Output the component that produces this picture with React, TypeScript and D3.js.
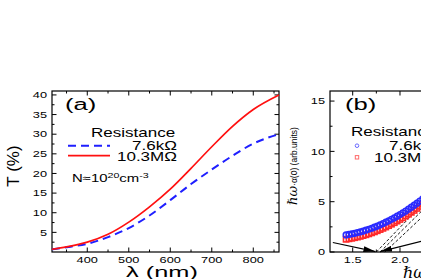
import React from 'react';
import * as d3 from 'd3';

// panel (a): transmission spectra
const wavelength = [315, 350, 400, 450, 500, 550, 600, 650, 700, 750, 800, 862];
const tLowRes = [0.7, 1.2, 2.1, 3.8, 6.1, 9.3, 13.2, 17.3, 21.0, 24.5, 27.6, 30.0];
const tHighRes = [0.7, 1.3, 2.5, 4.5, 7.6, 11.5, 16.0, 21.3, 26.8, 32.0, 36.3, 40.0];

// panel (b): hw*alpha(0)
const energy = [1.43, 1.46, 1.49, 1.52, 1.55, 1.58, 1.61, 1.64, 1.67, 1.70, 1.73, 1.76, 1.79, 1.82, 1.85, 1.88,
  1.91, 1.94, 1.97, 2.00, 2.03, 2.06, 2.09, 2.12, 2.15, 2.18, 2.21, 2.24, 2.27, 2.30, 2.33];
const absLowRes = [1.70, 1.75, 1.80, 1.86, 1.93, 2.00, 2.08, 2.17, 2.26, 2.36, 2.47, 2.58, 2.70, 2.83, 2.96, 3.10,
  3.25, 3.40, 3.56, 3.72, 3.89, 4.07, 4.26, 4.45, 4.65, 4.85, 5.06, 5.28, 5.51, 5.74, 5.98];
const absHighRes = [1.26, 1.31, 1.36, 1.42, 1.48, 1.55, 1.63, 1.71, 1.80, 1.90, 2.00, 2.11, 2.23, 2.35, 2.48, 2.62,
  2.76, 2.91, 3.07, 3.23, 3.39, 3.57, 3.75, 3.94, 4.13, 4.33, 4.53, 4.74, 4.96, 5.19, 5.42];

const tangentX0 = [1.75, 1.79, 1.84];
const tangentX1 = [2.6, 2.6, 2.6];
const tangentY1 = [8.3, 7.5, 6.7];

const arrowFromX = [1.29, 2.4];
const arrowFromY = [0.95, 1.48];
const arrowToX = [1.74, 1.79];
const arrowToY = [0.04, 0.04];

const aXMajor = [400, 500, 600, 700, 800];
const aXMinor = [350, 450, 550, 650, 750, 850];
const aYMajor = [5, 10, 15, 20, 25, 30, 35, 40];
const aYMinor = [2.5, 7.5, 12.5, 17.5, 22.5, 27.5, 32.5, 37.5];
const bXMajor = [1.5, 2.0, 2.5, 3.0, 3.5];
const bXMinor = [1.75, 2.25, 2.75, 3.25];
const bYMajor = [0, 5, 10, 15];
const bYMinor = [2.5, 7.5, 12.5];

const SANS = 'Liberation Sans, Arial, sans-serif';
const STRETCH = 1.42;

function SText(props: any) {
  const { x, y, size, anchor, sx, children, ...rest } = props;
  return (
    <text transform={`translate(${x},${y}) scale(${sx || STRETCH},1)`} fontSize={size} fontFamily={SANS}
      textAnchor={anchor || 'start'} fill="#000" {...rest}>
      {children}
    </text>
  );
}

function Frame({ x, y, xMajor, xMinor, yMajor, yMinor, xFmt, yFmt }: any) {
  const [x0, x1] = x.range();
  const [y0, y1] = y.range();
  const maj = 4.5, mnr = 2.5;
  return (
    <g stroke="#000" strokeWidth={1}>
      <rect x={x0} y={y1} width={x1 - x0} height={y0 - y1} fill="none" strokeWidth={1.2} />
      {xMajor.map((v: number) => (
        <g key={'xm' + v}>
          <line x1={x(v)} x2={x(v)} y1={y0} y2={y0 - maj} />
          <line x1={x(v)} x2={x(v)} y1={y1} y2={y1 + maj} />
          <SText x={x(v)} y={y0 + 10.5} size={9} anchor="middle" stroke="none">{xFmt(v)}</SText>
        </g>
      ))}
      {xMinor.map((v: number) => (
        <g key={'xn' + v}>
          <line x1={x(v)} x2={x(v)} y1={y0} y2={y0 - mnr} />
          <line x1={x(v)} x2={x(v)} y1={y1} y2={y1 + mnr} />
        </g>
      ))}
      {yMajor.map((v: number) => (
        <g key={'ym' + v}>
          <line x1={x0} x2={x0 + maj} y1={y(v)} y2={y(v)} />
          <line x1={x1} x2={x1 - maj} y1={y(v)} y2={y(v)} />
          <SText x={x0 - 5} y={y(v) + 3.3} size={9} anchor="end" stroke="none">{yFmt(v)}</SText>
        </g>
      ))}
      {yMinor.map((v: number) => (
        <g key={'yn' + v}>
          <line x1={x0} x2={x0 + mnr} y1={y(v)} y2={y(v)} />
          <line x1={x1} x2={x1 - mnr} y1={y(v)} y2={y(v)} />
        </g>
      ))}
    </g>
  );
}

export default function App() {
  const xa = d3.scaleLinear().domain([315, 862]).range([52, 279]);
  const ya = d3.scaleLinear().domain([0, 41]).range([252, 91]);
  const xb = d3.scaleLinear().domain([1.26, 3.66]).range([330, 557]);
  const yb = d3.scaleLinear().domain([0, 16]).range([252, 91]);

  const lineA = (vals: number[]) =>
    d3.line<number>().x((_, i) => xa(wavelength[i])).y(d => ya(d)).curve(d3.curveMonotoneX)(vals) || '';

  return (
    <svg width={421} height={279} style={{ position: 'absolute', left: 0, top: 0, background: '#fff' }}>
      <defs>
        <marker id="arrow" markerUnits="userSpaceOnUse" markerWidth={12} markerHeight={6} refX={12} refY={3} orient="auto">
          <path d="M0,0 L12,3 L0,6 z" fill="#000" />
        </marker>
      </defs>

      {/* panel (a) */}
      <Frame x={xa} y={ya} xMajor={aXMajor} xMinor={aXMinor} yMajor={aYMajor} yMinor={aYMinor}
        xFmt={(v: number) => String(v)} yFmt={(v: number) => String(v)} />
      <path d={lineA(tLowRes)} fill="none" stroke="#1f1fff" strokeWidth={2} strokeDasharray="8,5" />
      <path d={lineA(tHighRes)} fill="none" stroke="#ff1010" strokeWidth={1.7} />

      <SText x={65} y={109.5} size={16} sx={1.6}>(a)</SText>
      <SText x={91} y={137} size={12}>Resistance</SText>
      <line x1={68} x2={110} y1={145.7} y2={145.7} stroke="#1f1fff" strokeWidth={2} strokeDasharray="8,5" />
      <SText x={177} y={150.3} size={12} anchor="end">7.6kΩ</SText>
      <line x1={68} x2={110} y1={155.7} y2={155.7} stroke="#ff1010" strokeWidth={1.7} />
      <SText x={177} y={160.5} size={12} anchor="end">10.3MΩ</SText>
      <SText x={72} y={181.5} size={10.5}>
        N≈10<tspan fontSize={7.5} dy={-4}>20</tspan><tspan dy={4}>cm</tspan><tspan fontSize={7.5} dy={-4}>-3</tspan>
      </SText>

      <text transform="translate(19,166) rotate(-90)" fontSize={17} fontFamily={SANS} textAnchor="middle">T (%)</text>
      <SText x={162} y={277} size={14.5} sx={1.75} anchor="middle">λ (nm)</SText>

      {/* panel (b) */}
      <Frame x={xb} y={yb} xMajor={bXMajor} xMinor={bXMinor} yMajor={bYMajor} yMinor={bYMinor}
        xFmt={(v: number) => v.toFixed(1)} yFmt={(v: number) => String(v)} />

      {tangentX0.map((v, i) => (
        <line key={'t' + i} x1={xb(v)} y1={yb(0)} x2={xb(tangentX1[i])} y2={yb(tangentY1[i])}
          stroke="#000" strokeWidth={0.9} strokeDasharray="3,2" />
      ))}
      {arrowFromX.map((v, i) => (
        <line key={'a' + i} x1={xb(v)} y1={yb(arrowFromY[i])} x2={xb(arrowToX[i])} y2={yb(arrowToY[i])}
          stroke="#000" strokeWidth={1.1} markerEnd="url(#arrow)" />
      ))}

      {energy.map((e, i) => (
        <rect key={'r' + i} x={xb(e) - 2.6} y={yb(absHighRes[i]) - 2.6} width={5.2} height={5.2}
          fill="none" stroke="#ff2a2a" strokeWidth={1.6} />
      ))}
      {energy.map((e, i) => (
        <circle key={'c' + i} cx={xb(e)} cy={yb(absLowRes[i])} r={2.8} fill="none" stroke="#2a2aff" strokeWidth={1.6} />
      ))}

      <SText x={345} y={109.5} size={16} sx={1.6}>(b)</SText>
      <SText x={351} y={136} size={12}>Resistance</SText>
      <circle cx={357} cy={145.7} r={1.8} fill="none" stroke="#6a6aff" strokeWidth={1} />
      <SText x={434} y={150.3} size={12} anchor="end">7.6kΩ</SText>
      <rect x={355.3} y={155.6} width={3.4} height={3.4} fill="none" stroke="#ff6a6a" strokeWidth={1} />
      <SText x={434} y={161.5} size={12} anchor="end">10.3MΩ</SText>

      <text transform="translate(297,166) rotate(-90)" textAnchor="middle" fill="#000">
        <tspan fontFamily="DejaVu Serif" fontStyle="italic" fontSize={13}>ℏω</tspan>
        <tspan fontFamily={SANS} fontSize={8.5}>·α(0) (arb.units)</tspan>
      </text>
      <text x={403} y={278} fill="#000">
        <tspan fontFamily="DejaVu Serif" fontStyle="italic" fontSize={16}>ℏω</tspan>
        <tspan fontFamily={SANS} fontSize={15}> (eV)</tspan>
      </text>
    </svg>
  );
}
